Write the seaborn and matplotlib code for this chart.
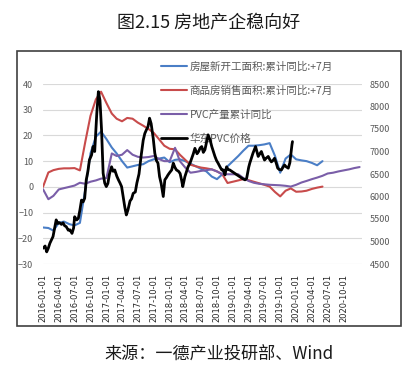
import pandas as pd
import seaborn as sns
import matplotlib
matplotlib.use("Agg")
import matplotlib.pyplot as plt
from matplotlib.lines import Line2D
from matplotlib.patches import Rectangle

# ----------------------------
# data
# ----------------------------

months_start = "2016-01-01"

# 房屋新开工面积:累计同比:+7月 (monthly, from 2016-01)
starts_yoy = [-15.8, -16, -17, -14, -13.5, -14.5, -15, -14, -1, 13, 19.5, 21.5,
              18.6, 15.3, 13, 10, 7.5, 8, 8.5, 8.8, 10, 10.7, 11, 11.4,
              9.6, 10.5, 10.7, 10, 9, 8, 7, 6, 4, 3, 4.9, 8,
              10, 12, 14, 16, 16, 16.2, 16.5, 17, 12, 5.5, 11, 12.6,
              10.7, 10.3, 10, 9.3, 8.4, 10]

# 商品房销售面积:累计同比:+7月
sales_yoy = [0, 5.6, 6.5, 7, 7.2, 7.2, 7.3, 6.4, 17.5, 27.6, 34, 37,
             32.6, 28.5, 26.5, 25.5, 26.8, 26.5, 25, 23.8, 22.5, 21, 18.5, 16,
             14.8, 14.6, 12.5, 10.5, 8.6, 8, 7.5, 7.2, 6.8, 6, 4.9, 1.5,
             2, 2.5, 3, 2.6, 2, 1.4, 0.8, 0.1, -2, -3.7, -1.5, -0.6,
             -1.9, -1.8, -1.5, -0.8, -0.3, 0.1]

# PVC产量累计同比
pvc_output_yoy = [-0.9, -4.8, -3.5, -1, -0.5, 0, 0.5, 1.6, 1.2, 2, 2.5, 3.2,
                  3.4, 13, 12, 12.5, 14.3, 12.5, 11.7, 11.4, 11.6, 12, 10.8, 10,
                  10, 15.2, 10, 7.5, 5.5, 5.8, 6.2, 6.5, 6.8, 6, 4.9, 4.9,
                  4.9, 4.9, 3.5, 2.3, 1.6, 1.2, 1, 0.8, 0.7, 0.6, 0.4, 0.1,
                  0.8, 1.7, 2.3, 3, 3.6, 4.3, 5.2, 5.5, 6, 6.4, 6.8, 7.3, 7.7]

# 华东PVC价格 (month offset from 2016-01, price)
price_month = [0.0, 0.4, 0.7, 1.0, 1.3, 1.9, 2.5, 2.8, 3.1, 3.5, 3.8, 4.1, 4.4, 4.8,
               5.1, 5.5, 5.8, 6.0, 6.4, 6.7, 7.0, 7.3, 7.6, 7.9, 8.2, 8.5, 8.8,
               9.2, 9.5, 9.8, 10.2, 10.5, 10.8, 11.1, 11.4, 11.7, 12.0, 12.3,
               12.6, 13.0, 13.3, 13.6, 14.0, 14.3, 14.6, 14.9, 15.2, 15.5, 15.8,
               16.1, 16.5, 16.8, 17.1, 17.5, 17.8, 18.2, 18.6, 19.0, 19.3, 19.6,
               19.9, 20.2, 20.5, 20.9, 21.2, 21.5, 21.8, 22.1, 22.4, 22.8, 23.1,
               23.4, 23.7, 24.0, 24.4, 24.7, 25.0, 25.3, 25.7, 26.0, 26.3, 26.5,
               26.9, 27.2, 27.5, 27.9, 28.2, 28.5, 28.8, 29.2, 29.5, 29.8, 30.1,
               30.4, 30.7, 31.0, 31.3, 31.7, 32.0, 32.3, 32.6, 32.9, 33.2, 33.6,
               33.9, 34.2, 34.5, 34.8, 35.1, 35.4, 35.9, 36.4, 36.8, 37.3, 37.8,
               38.3, 38.6, 39.0, 39.2, 39.5, 39.8, 40.1, 40.3, 40.6, 40.8, 41.1,
               41.4, 41.7, 42.0, 42.3, 42.7, 43.0, 43.3, 43.6, 43.9, 44.2, 44.5,
               44.8, 45.2, 45.5, 45.8, 46.1, 46.5, 46.8, 47.0, 47.2, 47.3]
price = [4850, 4900, 4770, 4850, 4960, 5110, 5480, 5400, 5420, 5380, 5415, 5350, 5330, 5250,
         5260, 5180, 5300, 5550, 5480, 5515, 5700, 5920, 5880, 5960, 6370, 6550, 6810,
         6920, 7110, 7000, 7850, 8330, 8140, 7480, 6520, 6300, 6220, 6290,
         6500, 6660, 6560, 6590, 6450, 6370, 6300, 6220, 6000, 5770, 5590,
         5700, 5900, 5950, 6070, 6100, 6300, 6500, 6900, 7250, 7400, 7480,
         7550, 7740, 7620, 7290, 6960, 6800, 6740, 6440, 6290, 6000, 6370,
         6420, 6480, 6530, 6590, 6740, 6650, 6590, 6560, 6510, 6350, 6220,
         6440, 6550, 6660, 6750, 6850, 6950, 7070, 6950, 7000, 7080, 7110,
         6980, 7040, 7200, 7370, 7250, 7110, 7000, 6890, 6800, 6740, 6650,
         6590, 6590, 6480, 6660, 6600, 6590, 6550, 6510, 6480, 6440, 6400,
         6370, 6400, 6650, 6740, 6850, 6960, 7050, 7110, 6980, 6890, 6950,
         7000, 6900, 6810, 6850, 6890, 6820, 6770, 6800, 6850, 6750, 6630,
         6600, 6590, 6650, 6700, 6660, 6630, 6750, 6950, 7150, 7220]

labels = ["房屋新开工面积:累计同比:+7月", "商品房销售面积:累计同比:+7月",
          "PVC产量累计同比", "华东PVC价格"]
tick_dates = pd.date_range("2016-01-01", "2020-10-01", freq="QS")

# ----------------------------
# frames
# ----------------------------

t0 = pd.Timestamp(months_start)
yoy_df = pd.DataFrame({
    "date": pd.date_range(months_start, periods=len(pvc_output_yoy), freq="MS"),
    "pvc": pvc_output_yoy,
})
yoy_df["starts"] = pd.Series(starts_yoy)
yoy_df["sales"] = pd.Series(sales_yoy)

price_df = pd.DataFrame({
    "date": [t0 + pd.Timedelta(days=m * 30.44) for m in price_month],
    "price": price,
})

# ----------------------------
# plot
# ----------------------------

sns.set_theme(style="white")
plt.rcParams["font.family"] = ["Noto Sans CJK SC", "DejaVu Sans"]

blue, red, purple = "#4a7ec6", "#c84b4b", "#7a5ea8"
grey = "#595959"

fig = plt.figure(figsize=(4.09, 3.66), dpi=100)
ax1 = fig.add_axes([43 / 409, 1 - 264 / 366, (362 - 43) / 409, 180 / 366])
ax2 = ax1.twinx()

sns.lineplot(data=yoy_df, x="date", y="starts", ax=ax1, color=blue, linewidth=1.5)
sns.lineplot(data=yoy_df, x="date", y="sales", ax=ax1, color=red, linewidth=1.5)
sns.lineplot(data=yoy_df, x="date", y="pvc", ax=ax1, color=purple, linewidth=1.5)
sns.lineplot(data=price_df, x="date", y="price", ax=ax2, color="black",
             linewidth=2.0, estimator=None)

ax1.set_xlim(pd.Timestamp("2016-01-01"), pd.Timestamp("2021-01-15"))
ax1.set_ylim(-30, 40)
ax2.set_ylim(4500, 8500)
ax1.set_yticks(range(-30, 41, 10))
ax2.set_yticks(range(4500, 8501, 500))
ax1.set_xticks(tick_dates)
ax1.set_xticklabels([d.strftime("%Y-%m-%d") for d in tick_dates], rotation=90,
                    fontsize=6, color="#262626", family="DejaVu Sans")
ax1.tick_params(axis="x", length=0, pad=7)
ax1.tick_params(axis="y", length=0, pad=7, labelsize=6.5, labelcolor=grey)
ax2.tick_params(axis="y", length=0, pad=5.5, labelsize=6.5, labelcolor=grey)
for a in (ax1, ax2):
    a.set_xlabel("")
    a.set_ylabel("")
    for s in a.spines.values():
        s.set_visible(False)
ax1.grid(axis="y", color="#d9d9d9", linewidth=0.8)
ax1.grid(axis="x", visible=False)
ax2.grid(False)

handles = [Line2D([], [], color=c, linewidth=1.5) for c in (blue, red, purple)]
handles.append(Line2D([], [], color="black", linewidth=2.0))
leg = ax1.legend(handles, labels, loc="upper left", bbox_to_anchor=(156 / 409, 1 - 56 / 366),
                 bbox_transform=fig.transFigure, frameon=False, fontsize=7.6,
                 handlelength=2.4, handletextpad=0.3, labelspacing=1.3, borderpad=0)
for t in leg.get_texts():
    t.set_color(grey)

# outer chart border
fig.patches.append(Rectangle((17 / 409, 1 - 326 / 366), 384 / 409, 275 / 366,
                             transform=fig.transFigure, fill=False,
                             edgecolor="#404040", linewidth=1.2))

fig.text(0.511, 1 - 22 / 366, "图2.15 房地产企稳向好", ha="center", va="center",
         fontsize=13, color="#1a1a1a")
fig.text(0.535, 1 - 355 / 366, "来源：一德产业投研部、Wind", ha="center", va="center",
         fontsize=12.3, color="#1a1a1a")

fig.savefig("out.png", dpi=100)
